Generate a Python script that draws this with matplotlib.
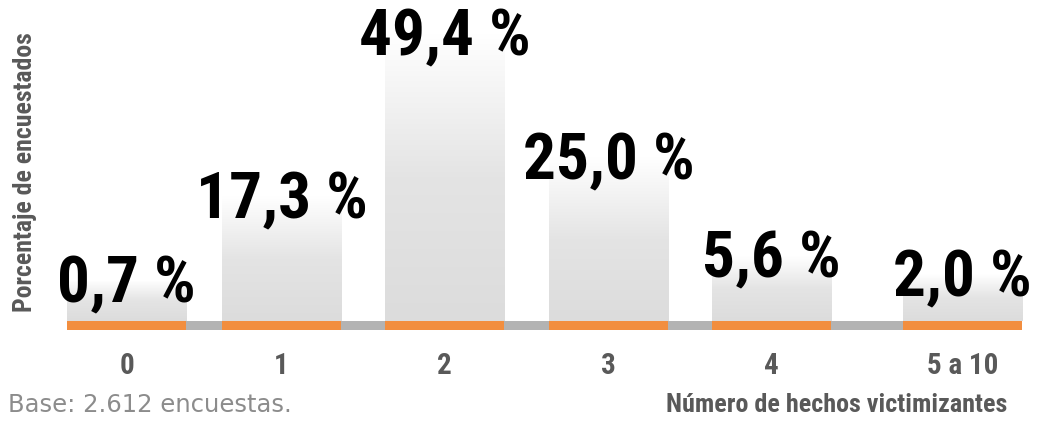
import matplotlib
matplotlib.use("Agg")
import matplotlib.pyplot as plt
import numpy as np
from matplotlib.colors import LinearSegmentedColormap

# datos
categorias = ["0", "1", "2", "3", "4", "5 a 10"]
porcentajes = [0.7, 17.3, 49.4, 25.0, 5.6, 2.0]
etiquetas = ["0,7 %", "17,3 %", "49,4 %", "25,0 %", "5,6 %", "2,0 %"]

# layout (posiciones de las barras, no son datos)
posiciones = [0, 0.948, 1.945, 2.948, 3.945, 5.113]
ancho = 0.728
base = -7.17
piso = -8.94
techo = 55.9

condensada = ['Roboto Condensed', 'Liberation Sans Narrow', 'DejaVu Sans Condensed', 'DejaVu Sans']
gris_texto = '#595959'

fig = plt.figure(figsize=(10.44, 4.22), dpi=100)
ax = fig.add_axes([67/1044, 92/422, 955/1044, 330/422])

cmap = LinearSegmentedColormap.from_list('grad', ['#dcdcdc', '#e4e4e4', '#ffffff'])
grad = np.linspace(0, 1, 256).reshape(-1, 1)

for x, v, lab in zip(posiciones, porcentajes, etiquetas):
    rect = ax.bar(x, v - base, bottom=base, width=ancho, color='none', linewidth=0)[0]
    im = ax.imshow(grad, extent=[x - ancho/2, x + ancho/2, base, v], cmap=cmap,
                   aspect='auto', origin='lower', zorder=1)
    im.set_clip_path(rect)
    ax.annotate(lab, (x, v), xytext=(0, -15.8), textcoords='offset points',
                ha='center', va='baseline', fontsize=47, fontweight='bold',
                family=condensada, color='black', zorder=5)

# franja base
ax.axhspan(piso, base, color='#b3b3b3', zorder=2, linewidth=0)
ax.bar(posiciones, base - piso, bottom=piso, width=ancho, color='#f28e3f', zorder=3, linewidth=0)

ax.set_xlim(-0.364, 5.477)
ax.set_ylim(piso, techo)
ax.set_xticks(posiciones, categorias)
ax.tick_params(axis='x', length=0, pad=16, colors=gris_texto)
for t in ax.get_xticklabels():
    t.set_fontsize(21)
    t.set_fontweight('bold')
    t.set_family(condensada)
ax.set_yticks([])
for s in ax.spines.values():
    s.set_visible(False)

fig.text(25/1044, 1 - 172/422, "Porcentaje de encuestados", rotation=90, ha='center', va='center',
         fontsize=18.5, fontweight='bold', family=condensada, color=gris_texto)
fig.text(1007/1044, 5/422, "Número de hechos victimizantes", ha='right', va='bottom',
         fontsize=18.8, fontweight='bold', family=condensada, color=gris_texto)
fig.text(8/1044, 5/422, "Base: 2.612 encuestas.", ha='left', va='bottom',
         fontsize=17.5, family=['DejaVu Sans'], color='#8c8c8c')

fig.savefig('out.png', dpi=100)
